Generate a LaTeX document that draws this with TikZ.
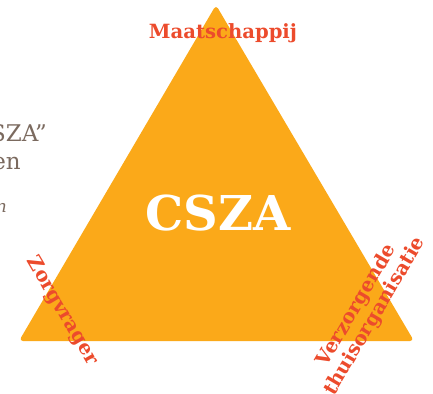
\documentclass[tikz,border=0pt]{standalone}
\usepackage{fontspec}
\setmainfont{DejaVu Serif}
\definecolor{tri}{HTML}{FBA919}
\definecolor{lab}{HTML}{EC4B2C}
\definecolor{grey}{HTML}{7B6A5F}
\begin{document}
\begin{tikzpicture}[x=1pt,y=-1pt,
  label/.style={text=lab,font=\fontsize{19.6}{21}\selectfont\bfseries,inner sep=0pt,align=center},
  side/.style={text=grey,inner sep=0pt}]
\useasboundingbox (0,0) rectangle (433,393);
\coordinate (top) at (216,5);
\coordinate (bl) at (19,341);
\coordinate (br) at (414,341);
\fill[tri,rounded corners=4pt] (top) -- (br) -- (bl) -- cycle;
\node[side,anchor=base east,font=\fontsize{23}{25}\selectfont] (t1) at (47,141) {SZA”};
\node[side,anchor=base east,font=\fontsize{23}{25}\selectfont] (t2) at (21,169) {en};
\node[side,anchor=base east,font=\fontsize{17}{19}\selectfont\itshape] (t3) at (7,212) {n};
\node[text=white,font=\fontsize{48}{50}\selectfont\bfseries,inner sep=0pt] (cs) at (218,213) {CSZA};
\node[label] (m) at (223,33) {Maatschappij};
\node[label,rotate=-59.6] (z) at (62,311) {Zorgvrager};
\node[label,rotate=59.6] (v) at (366,311) {Verzorgende\\thuisorganisatie};
\end{tikzpicture}
\end{document}
